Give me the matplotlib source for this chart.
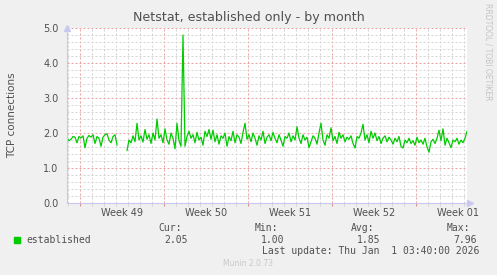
import numpy as np
import matplotlib
matplotlib.use("Agg")
import matplotlib.pyplot as plt

# values, one sample every 4 hours (NaN = no data)
established = [
    1.85, 1.78, 1.82, 1.90, 1.88, 1.72, 1.90, 1.86, 1.92, 1.58,
    1.85, 1.93, 1.88, 1.95, 1.70, 1.90, 1.85, 1.62, 1.88, 1.95,
    1.98, 1.80, 1.72, 1.90, 1.95, 1.66, np.nan, np.nan, np.nan, np.nan,
    1.50, 1.80, 1.72, 1.92, 1.75, 2.28, 1.80, 1.92, 1.74, 2.10,
    1.82, 1.95, 1.70, 2.00, 1.80, 2.40, 1.85, 1.95, 1.72, 2.12,
    1.80, 1.68, 2.00, 1.85, 1.55, 2.28, 1.78, 1.62, 4.80, 1.62,
    1.90, 2.05, 1.85, 1.95, 1.72, 2.02, 1.80, 1.88, 1.65, 2.05,
    1.90, 2.10, 1.82, 2.08, 1.75, 1.95, 1.68, 1.92, 1.85, 2.00,
    1.62, 1.90, 1.78, 2.05, 1.72, 1.95, 1.88, 1.70, 2.02, 2.28,
    1.82, 1.95, 1.75, 2.00, 1.85, 1.65, 1.92, 1.80, 2.05, 1.70,
    1.88, 1.95, 1.78, 2.02, 1.85, 1.72, 1.95, 1.80, 1.62, 1.90,
    1.85, 2.00, 1.75, 1.92, 1.80, 2.18, 1.85, 1.70, 1.95, 1.80,
    1.88, 1.58, 1.75, 1.92, 1.85, 1.68, 2.00, 2.28, 1.80, 1.65,
    1.95, 1.85, 2.15, 1.78, 1.90, 1.70, 2.02, 1.85, 1.95, 1.75,
    1.88, 1.82, 1.92, 1.70, 1.57, 1.90, 1.85, 2.00, 2.25, 1.80,
    1.95, 1.72, 2.05, 1.85, 2.00, 1.78, 1.90, 1.70, 1.85, 1.92,
    1.75, 1.88, 1.80, 1.68, 1.85, 1.75, 1.90, 1.62, 1.57, 1.80,
    1.72, 1.85, 1.70, 1.78, 1.65, 1.88, 1.72, 1.80, 1.68, 1.85,
    1.60, 1.45, 1.75, 1.82, 1.70, 1.85, 2.08, 1.78, 2.12, 1.65,
    1.85, 1.72, 1.58, 1.80, 1.75, 1.85, 1.68, 1.80, 1.72, 1.85,
    2.05,
]
week_labels = ["Week 49", "Week 50", "Week 51", "Week 52", "Week 01"]
week_starts = [1.083, 8.083, 15.083, 22.083, 29.083]  # days from left edge
stats = {"Cur:": "2.05", "Min:": "1.00", "Avg:": "1.85", "Max:": "7.96"}

days = np.arange(len(established)) / 6.0
span = 400 / 12.0

W, H = 497, 275
fig = plt.figure(figsize=(W / 100, H / 100), dpi=100, facecolor="#f0f0f0")
ax = fig.add_axes([67 / W, 72 / H, 400 / W, 175 / H], facecolor="white")

txt = "#505050"
ax.set_xlim(0, span)
ax.set_ylim(0, 5.0)
ax.set_xticks(week_starts)
ax.set_xticks(np.arange(0.083, span, 1.0), minor=True)
ax.set_xticklabels([])
ax.set_yticks([0, 1, 2, 3, 4, 5])
ax.set_yticklabels(["0.0", "1.0", "2.0", "3.0", "4.0", "5.0"])
ax.set_yticks(np.arange(0, 5.01, 0.2), minor=True)
ax.tick_params(axis="y", which="both", length=0, labelsize=7, labelcolor=txt, pad=6)
ax.tick_params(axis="x", which="major", length=2, color="#e09090", direction="out")
ax.tick_params(axis="x", which="minor", length=2, color="#d0d0d0", direction="out")
ax.grid(which="minor", color="#d4d4d4", linestyle=(0, (2, 2)), linewidth=0.72)
ax.grid(which="major", color="#eea0a0", linestyle=(0, (2, 2)), linewidth=0.72)
ax.set_axisbelow(True)
for s in ["top", "right"]:
    ax.spines[s].set_visible(False)
for s in ["left", "bottom"]:
    ax.spines[s].set_color("#c8c8f0")
    ax.spines[s].set_linewidth(0.8)

# axis arrows
ax.plot([0], [1.0], transform=ax.transAxes, marker="^", color="#c8c8f0",
        markersize=5, clip_on=False)
ax.plot([1.0075], [0], transform=ax.transAxes, marker=">", color="#c8c8f0",
        markersize=5, clip_on=False)

ax.plot(days, established, color="#00cc00", linewidth=0.9)

for lab, ws in zip(week_labels, week_starts):
    ax.text(ws + 3.5, -0.06, lab, transform=ax.get_xaxis_transform(),
            ha="center", va="center", fontsize=7, color=txt)

fig.text(249 / W, 1 - 18 / H, "Netstat, established only - by month",
         ha="center", va="center", fontsize=9.1, color=txt)
fig.text(12 / W, 1 - 115 / H, "TCP connections", rotation=90,
         ha="center", va="center", fontsize=7.5, color=txt)
fig.text(488 / W, 1 - 52 / H, "RRDTOOL / TOBI OETIKER", rotation=270,
         ha="center", va="center", fontsize=5.5, color="#c4c4c4")

# legend block
mono = "DejaVu Sans Mono"
fig.patches.append(plt.Rectangle((14 / W, 1 - 243 / H), 6 / W, 6 / H,
                                 transform=fig.transFigure, color="#00cc00"))
fig.text(26 / W, 1 - 240 / H, "established", ha="left", va="center",
         fontsize=7, color=txt, family=mono)
for (head, val), xh in zip(stats.items(), [158, 255, 351, 447]):
    fig.text(xh / W, 1 - 228 / H, head, ha="left", va="center",
             fontsize=7, color=txt, family=mono)
    fig.text((xh + 6) / W, 1 - 240 / H, val, ha="left", va="center",
             fontsize=7, color=txt, family=mono)
fig.text(262 / W, 1 - 251 / H, "Last update: Thu Jan  1 03:40:00 2026",
         ha="left", va="center", fontsize=7, color=txt, family=mono)
fig.text(248 / W, 1 - 264 / H, "Munin 2.0.73", ha="center", va="center",
         fontsize=5.5, color="#c8c8c8")

fig.savefig("out.png", dpi=100, facecolor=fig.get_facecolor())
